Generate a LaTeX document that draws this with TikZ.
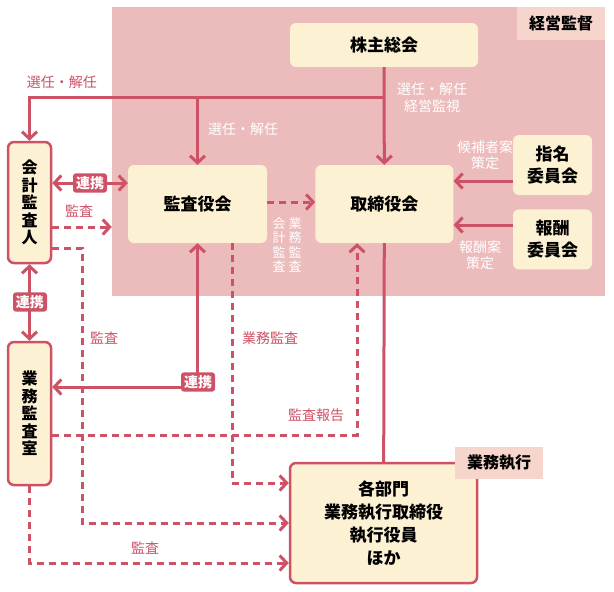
\documentclass[tikz,border=0pt]{standalone}
\usepackage{fontspec}
\setmainfont{Noto Sans CJK JP}
\usetikzlibrary{arrows.meta,positioning}
\definecolor{linered}{RGB}{206,82,102}
\definecolor{bgpink}{RGB}{236,187,187}
\definecolor{cream}{RGB}{253,241,212}
\definecolor{tagpink}{RGB}{246,214,204}
\tikzstyle{block} = [rectangle, fill=cream, rounded corners=6pt,
    font=\fontsize{17}{22}\selectfont\bfseries, align=center, inner sep=0pt]
\tikzstyle{outlined} = [block, draw=linered, line width=2.5pt]
\tikzstyle{tag} = [rectangle, fill=tagpink, inner sep=0pt,
    font=\fontsize{16}{19}\selectfont\bfseries, minimum width=88pt, minimum height=33pt]
\tikzstyle{badge} = [rectangle, fill=linered, rounded corners=3pt, text=white,
    font=\fontsize{14}{16}\selectfont\bfseries, inner xsep=3pt, inner ysep=3pt]
\tikzstyle{redlabel} = [text=linered, font=\fontsize{14}{16}\selectfont, align=center, inner sep=0pt]
\tikzstyle{whitelabel} = [redlabel, text=white]
\tikzstyle{plain} = [draw=linered, line width=3pt]
\tikzstyle{line} = [plain, -{Straight Barb[length=7pt,width=15pt]}]
\tikzstyle{both} = [plain, {Straight Barb[length=7pt,width=15pt]}-{Straight Barb[length=7pt,width=15pt]}]
\tikzstyle{dline} = [line, dash pattern=on 7pt off 5pt]

\begin{document}
\begin{tikzpicture}[x=1pt, y=-1pt]
    \fill[white] (0,0) rectangle (614,592);
    \useasboundingbox (0,0) rectangle (614,592);
    % Place nodes
    \node [fill=bgpink, minimum width=493pt, minimum height=289pt, inner sep=0pt] (keiei) at (358.5,151.5) {};
    \node [tag] (keieitag) at (561,23.5) {経営監督};
    \node [block, minimum width=188pt, minimum height=44pt] (soukai) at (384,45) {株主総会};
    \node [block, minimum width=139pt, minimum height=78pt] (kansa) at (197.5,204) {監査役会};
    \node [block, minimum width=138pt, minimum height=78pt, right=48pt of kansa] (torishimari) {取締役会};
    \node [block, minimum width=79pt, minimum height=60pt] (shimei) at (552.5,165) {指名\\委員会};
    \node [block, minimum width=79pt, minimum height=60pt, below=14pt of shimei] (houshu) {報酬\\委員会};
    \node [outlined, minimum width=43pt, minimum height=121pt, font=\fontsize{16}{17.5}\selectfont\bfseries] (kaikei) at (29.5,202.5) {会\\計\\監\\査\\人};
    \node [outlined, minimum width=43pt, minimum height=143pt, font=\fontsize{16}{17.5}\selectfont\bfseries] (gyomu) at (29.5,413.5) {業\\務\\監\\査\\室};
    \node [outlined, minimum width=187pt, minimum height=120pt, font=\fontsize{17}{23}\selectfont\bfseries] (bumon) at (383.5,523) {各部門\\業務執行取締役\\執行役員\\ほか};
    \node [tag, minimum height=32pt] (shikkotag) at (499,463) {業務執行};
    % Draw edges
    \coordinate (fork) at (384,97);
    \path [line] (soukai) -- (torishimari);
    \path [line] (fork) -| (kaikei);
    \path [line] (kansa.north |- fork) -- (kansa);
    \path [line] (shimei.west |- 0,181) -- (torishimari.east |- 0,181);
    \path [line] (houshu.west |- 0,225) -- (torishimari.east |- 0,225);
    \path [both] (kaikei.east |- 0,183) -- (kansa.west |- 0,183);
    \path [both] (kaikei) -- (gyomu);
    \path [both] (kansa.south) |- (gyomu.east |- 0,387);
    \path [dline] (kaikei.east |- 0,227) -- (keiei.west |- 0,227);
    \path [dline] (kaikei.east |- 0,248) -| (82,523) -- (bumon.west |- 0,523);
    \path [dline] (kansa.east |- 0,202) -- (torishimari.west |- 0,202);
    \path [dline] (kansa.south -| 232,0) |- (bumon.west |- 0,483);
    \path [dline] (gyomu.east |- 0,435) -| (torishimari.south -| 357,0);
    \path [dline] (gyomu.south) |- (bumon.west |- 0,563);
    \path [plain] (torishimari) -- (bumon);
    % Badges and labels
    \node [badge] (renkei1) at (90,183) {連携};
    \node [badge] (renkei2) at (30,302) {連携};
    \node [badge] (renkei3) at (198,382) {連携};
    \node [redlabel] (senin1) at (62,82) {選任・解任};
    \node [whitelabel] (senin2) at (243,129) {選任・解任};
    \node [whitelabel, font=\fontsize{14}{17}\selectfont] (senin3) at (432,98) {選任・解任\\経営監視};
    \node [whitelabel] (kouho) at (485,155) {候補者案\\策定};
    \node [whitelabel] (houshuan) at (480,255) {報酬案\\策定};
    \node [whitelabel, font=\fontsize{13}{14.5}\selectfont] (gyomukansa1) at (295,245) {業\\務\\監\\査};
    \node [whitelabel, font=\fontsize{13}{14.5}\selectfont] (kaikeikansa) at (279,245) {会\\計\\監\\査};
    \node [redlabel] (kansa1) at (79,211) {監査};
    \node [redlabel] (kansa2) at (104,338) {監査};
    \node [redlabel] (gyomukansa2) at (270,338) {業務監査};
    \node [redlabel] (houkoku) at (316,415) {監査報告};
    \node [redlabel] (kansa3) at (145,548) {監査};
\end{tikzpicture}
\end{document}
